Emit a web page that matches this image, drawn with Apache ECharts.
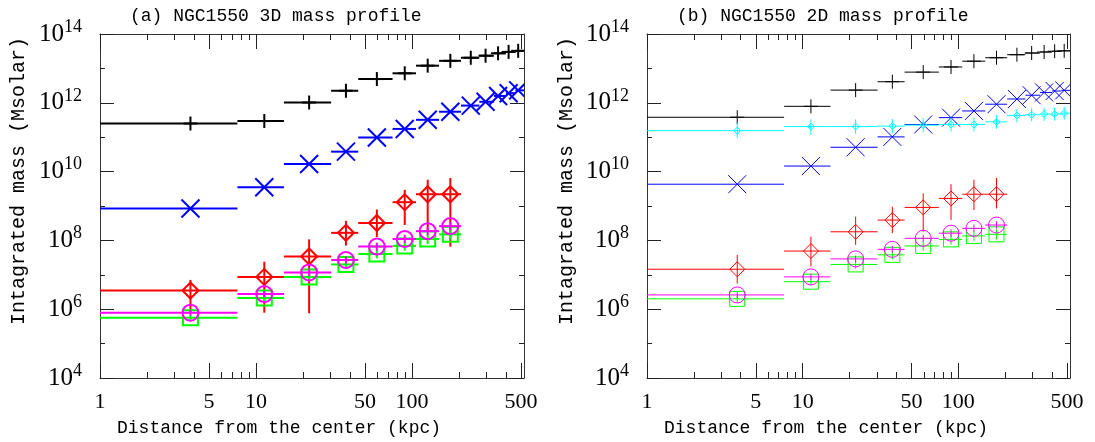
<!DOCTYPE html>
<html>
<head>
<meta charset="utf-8">
<script src="https://cdn.jsdelivr.net/npm/echarts@6/dist/echarts.min.js"></script>
<style>
  html, body { margin: 0; padding: 0; background: #fff; }
  #chart { width: 1095px; height: 442px; }
</style>
</head>
<body>
<div id="chart"></div>
<script>
// radial bins (kpc)
const binLo = [1, 7.6, 15.1, 30.3, 45.2, 75, 106, 149, 206, 270, 335, 400, 460];
const binHi = [7.6, 15.1, 30.3, 45.2, 75, 106, 149, 206, 270, 335, 400, 460, 525];
const binMid = [3.8, 11.3, 21.9, 37.7, 59.5, 89.8, 126, 176, 238, 296, 356, 416, 479];

// (a) 3D mass profile (Msolar)
const total3d = [2.5e11, 2.95e11, 1.02e12, 2.24e12, 4.9e12, 7.2e12, 1.2e13, 1.66e13, 2.04e13, 2.34e13, 2.75e13, 3.02e13, 3.24e13];
const gas3d = [8.5e8, 3.5e9, 1.66e10, 3.8e10, 9.8e10, 1.74e11, 3.2e11, 5.5e11, 8.3e11, 1.07e12, 1.58e12, 1.9e12, 2.3e12];
const red3d = [3.5e6, 8.7e6, 3.4e7, 1.66e8, 3.2e8, 1.29e9, 2.2e9, 2.2e9];
const red3dLo = [8.3e5, 7.9e5, 7.6e5, 7.1e7, 1.26e8, 2.8e8, 2.0e8, 6.6e7];
const red3dHi = [7.1e6, 2.4e7, 1.07e8, 3.7e8, 7.9e8, 2.95e9, 5.8e9, 6.5e9];
const mag3d = [7.9e5, 2.75e6, 1.17e7, 2.7e7, 6.6e7, 1.1e8, 1.86e8, 2.6e8];
const mag3dLo = [6.5e5, 2.2e6, 9.0e6, 2.1e7, 5.0e7, 8.3e7, 1.4e8, 1.95e8];
const mag3dHi = [9.5e5, 3.4e6, 1.5e7, 3.4e7, 8.6e7, 1.45e8, 2.45e8, 3.4e8];
const grn3d = [5.6e5, 2.1e6, 8.7e6, 2.0e7, 4.0e7, 6.9e7, 1.1e8, 1.5e8];
const grn3dLo = [4.5e5, 1.6e6, 6.5e6, 1.5e7, 3.0e7, 5.0e7, 7.8e7, 1.05e8];
const grn3dHi = [6.8e5, 2.6e6, 1.15e7, 2.6e7, 5.3e7, 9.3e7, 1.5e8, 2.1e8];

// (b) 2D mass profile (Msolar)
const total2d = [3.8e11, 7.9e11, 2.34e12, 4.1e12, 7.8e12, 1.1e13, 1.62e13, 2.04e13, 2.5e13, 2.8e13, 3.0e13, 3.16e13, 3.24e13];
const gas2d = [4.3e9, 1.45e10, 5.1e10, 1.02e11, 2.34e11, 3.7e11, 5.8e11, 9.1e11, 1.29e12, 1.66e12, 2.0e12, 2.2e12, 2.3e12];
const cyan2d = [1.55e11, 2.04e11, 2.04e11, 2.1e11, 2.24e11, 2.34e11, 2.34e11, 2.8e11, 4.3e11, 4.5e11, 4.7e11, 4.7e11, 5.0e11];
const cyan2dLo = [9.3e10, 1.15e11, 1.25e11, 1.3e11, 1.4e11, 1.45e11, 1.45e11, 1.75e11, 2.7e11, 2.9e11, 3.0e11, 3.0e11, 3.2e11];
const cyan2dHi = [2.7e11, 3.3e11, 3.3e11, 3.4e11, 3.6e11, 3.7e11, 3.7e11, 4.4e11, 6.6e11, 7.0e11, 7.2e11, 7.2e11, 7.6e11];
const red2d = [1.45e7, 4.9e7, 1.78e8, 3.9e8, 9.1e8, 1.66e9, 2.2e9, 2.2e9];
const red2dLo = [5.6e6, 1.74e7, 7.4e7, 1.62e8, 1.78e8, 3.9e8, 7.6e8, 8.5e8];
const red2dHi = [3.8e7, 1.29e8, 4.9e8, 9.5e8, 2.34e9, 4.3e9, 5.8e9, 6.5e9];
const mag2d = [2.6e6, 8.7e6, 2.9e7, 5.5e7, 1.15e8, 1.62e8, 2.24e8, 2.8e8];
const mag2dLo = [2.1e6, 7.0e6, 2.3e7, 4.4e7, 9.0e7, 1.25e8, 1.75e8, 2.2e8];
const mag2dHi = [3.2e6, 1.1e7, 3.6e7, 6.9e7, 1.45e8, 2.1e8, 2.9e8, 3.6e8];
const grn2d = [2.0e6, 6.3e6, 2.0e7, 3.8e7, 6.9e7, 1.07e8, 1.35e8, 1.5e8];
const grn2dLo = [1.5e6, 4.8e6, 1.5e7, 2.8e7, 5.0e7, 7.5e7, 9.5e7, 1.05e8];
const grn2dHi = [2.5e6, 8.0e6, 2.6e7, 5.0e7, 9.3e7, 1.5e8, 1.9e8, 2.1e8];

// ticks and labels
const xMajor = [1, 5, 10, 50, 100, 500];
const xMinor = [2, 3, 4, 6, 7, 8, 9, 20, 30, 40, 60, 70, 80, 90, 200, 300, 400];
const yMajor = [1e4, 1e6, 1e8, 1e10, 1e12, 1e14];
const yMinor = [1e5, 1e7, 1e9, 1e11, 1e13];

const X_MIN = 1, X_MAX = 522, Y_MIN = 1e4, Y_MAX = 1e14;
const AXIS_COLOR = '#333';
const TICK_COLOR = '#222';

const grids = [
  { left: 100, top: 34, width: 424, height: 344 },
  { left: 647, top: 34, width: 423, height: 344 }
];

function xAxisFor(g, pos, ticks, len, line, labels) {
  return {
    type: 'log', gridIndex: g, position: pos, min: X_MIN, max: X_MAX,
    axisLine: { show: line, onZero: false, lineStyle: { color: AXIS_COLOR, width: 1 } },
    axisTick: { show: true, inside: true, length: len, customValues: ticks, lineStyle: { color: TICK_COLOR, width: 1 } },
    axisLabel: labels ? {
      show: true, customValues: labels, margin: 13, color: '#000',
      fontFamily: 'Liberation Serif', fontSize: 22,
      formatter: (v) => String(Math.round(v))
    } : { show: false },
    splitLine: { show: false }, minorTick: { show: false }
  };
}

function yAxisFor(g, pos, ticks, len, line, labels) {
  return {
    type: 'log', gridIndex: g, position: pos, min: Y_MIN, max: Y_MAX,
    axisLine: { show: line, onZero: false, lineStyle: { color: AXIS_COLOR, width: 1 } },
    axisTick: { show: true, inside: true, length: len, customValues: ticks, lineStyle: { color: TICK_COLOR, width: 1 } },
    axisLabel: labels ? {
      show: true, customValues: labels, margin: 18, color: '#000',
      formatter: (v) => '{b|10}{s|' + Math.round(Math.log10(v)) + '}',
      rich: {
        b: { fontFamily: 'Liberation Serif', fontSize: 25, color: '#000' },
        s: { fontFamily: 'Liberation Serif', fontSize: 18, color: '#000', padding: [0, 0, 14, 0] }
      }
    } : { show: false },
    splitLine: { show: false }, minorTick: { show: false }
  };
}

// per grid: bottom major/minor, top major/minor; left major/minor, right major/minor
const xAxes = [], yAxes = [];
[0, 1].forEach((g) => {
  xAxes.push(xAxisFor(g, 'bottom', xMajor, 15, true, xMajor));
  xAxes.push(xAxisFor(g, 'bottom', xMinor, 6, false, null));
  xAxes.push(xAxisFor(g, 'top', xMajor, 15, true, null));
  xAxes.push(xAxisFor(g, 'top', xMinor, 6, false, null));
  yAxes.push(yAxisFor(g, 'left', yMajor, 14, true, yMajor));
  yAxes.push(yAxisFor(g, 'left', yMinor, 5, false, null));
  yAxes.push(yAxisFor(g, 'right', yMajor, 14, true, null));
  yAxes.push(yAxisFor(g, 'right', yMinor, 5, false, null));
});

function marker(shape, x, y, s, st) {
  if (shape === 'plus') return [
    { type: 'line', shape: { x1: x - s, y1: y, x2: x + s, y2: y }, style: st },
    { type: 'line', shape: { x1: x, y1: y - s, x2: x, y2: y + s }, style: st }
  ];
  if (shape === 'cross') return [
    { type: 'line', shape: { x1: x - s, y1: y - s, x2: x + s, y2: y + s }, style: st },
    { type: 'line', shape: { x1: x - s, y1: y + s, x2: x + s, y2: y - s }, style: st }
  ];
  if (shape === 'diamond') return [
    { type: 'polygon', shape: { points: [[x, y - s], [x + s, y], [x, y + s], [x - s, y]] }, style: st }
  ];
  if (shape === 'circle') return [{ type: 'circle', shape: { cx: x, cy: y, r: s }, style: st }];
  if (shape === 'square') return [{ type: 'rect', shape: { x: x - s, y: y - s, width: 2 * s, height: 2 * s }, style: st }];
  return [];
}

// one profile = bin bar + optional error bar + marker, per point
function profile(g, vals, lo, hi, color, shape, size, lw) {
  const data = vals.map((v, i) => {
    const row = [binMid[i], binLo[i], binHi[i], v];
    if (lo) row.push(lo[i], hi[i]);
    return row;
  });
  return {
    type: 'custom', xAxisIndex: g * 4, yAxisIndex: g * 4, clip: true,
    encode: { x: 0, y: 3 }, data: data, animation: false, silent: true,
    renderItem: (params, api) => {
      const st = { stroke: color, lineWidth: lw, fill: 'none' };
      const y = api.value(3);
      const pm = api.coord([api.value(0), y]);
      const pl = api.coord([api.value(1), y]);
      const pr = api.coord([api.value(2), y]);
      const kids = [{ type: 'line', shape: { x1: pl[0], y1: pl[1], x2: pr[0], y2: pr[1] }, style: st }];
      const elo = api.value(4), ehi = api.value(5);
      if (isFinite(elo) && isFinite(ehi)) {
        const a = api.coord([api.value(0), elo]);
        const b = api.coord([api.value(0), ehi]);
        kids.push({ type: 'line', shape: { x1: a[0], y1: a[1], x2: b[0], y2: b[1] }, style: st });
      }
      marker(shape, pm[0], pm[1], size, st).forEach((k) => kids.push(k));
      return { type: 'group', children: kids };
    }
  };
}

const series = [
  profile(0, total3d, null, null, '#000000', 'plus', 7, 2),
  profile(0, gas3d, null, null, '#0000ff', 'cross', 9, 2),
  profile(0, red3d, red3dLo, red3dHi, '#ff0000', 'diamond', 8, 2),
  profile(0, grn3d, grn3dLo, grn3dHi, '#00ff00', 'square', 7.5, 2),
  profile(0, mag3d, mag3dLo, mag3dHi, '#ff00ff', 'circle', 8, 2),
  profile(1, total2d, null, null, '#000000', 'plus', 7, 1),
  profile(1, gas2d, null, null, '#0000ff', 'cross', 9, 1),
  profile(1, cyan2d, cyan2dLo, cyan2dHi, '#00ffff', 'diamond', 3.5, 1),
  profile(1, red2d, red2dLo, red2dHi, '#ff0000', 'diamond', 7.5, 1),
  profile(1, grn2d, grn2dLo, grn2dHi, '#00ff00', 'square', 7.5, 1),
  profile(1, mag2d, mag2dLo, mag2dHi, '#ff00ff', 'circle', 8, 1)
];

const MONO = '"Liberation Mono", monospace';
function label(text, x, y, size, rot, align) {
  return {
    type: 'text', x: x, y: y, rotation: rot || 0, silent: true,
    style: { text: text, font: size + 'px ' + MONO, fill: '#000', align: align || 'left', verticalAlign: 'middle' }
  };
}

const chart = echarts.init(document.getElementById('chart'), null, { renderer: 'canvas' });
chart.setOption({
  animation: false,
  backgroundColor: '#fff',
  grid: grids,
  xAxis: xAxes,
  yAxis: yAxes,
  series: series,
  graphic: [
    label('(a) NGC1550 3D mass profile', 130, 16, 18),
    label('(b) NGC1550 2D mass profile', 677, 16, 18),
    label('Distance from the center (kpc)', 117, 428, 18),
    label('Distance from the center (kpc)', 664, 428, 18),
    label('Intagrated mass (Msolar)', 19, 181, 20, Math.PI / 2, 'center'),
    label('Intagrated mass (Msolar)', 567, 181, 20, Math.PI / 2, 'center')
  ]
});
</script>
</body>
</html>
